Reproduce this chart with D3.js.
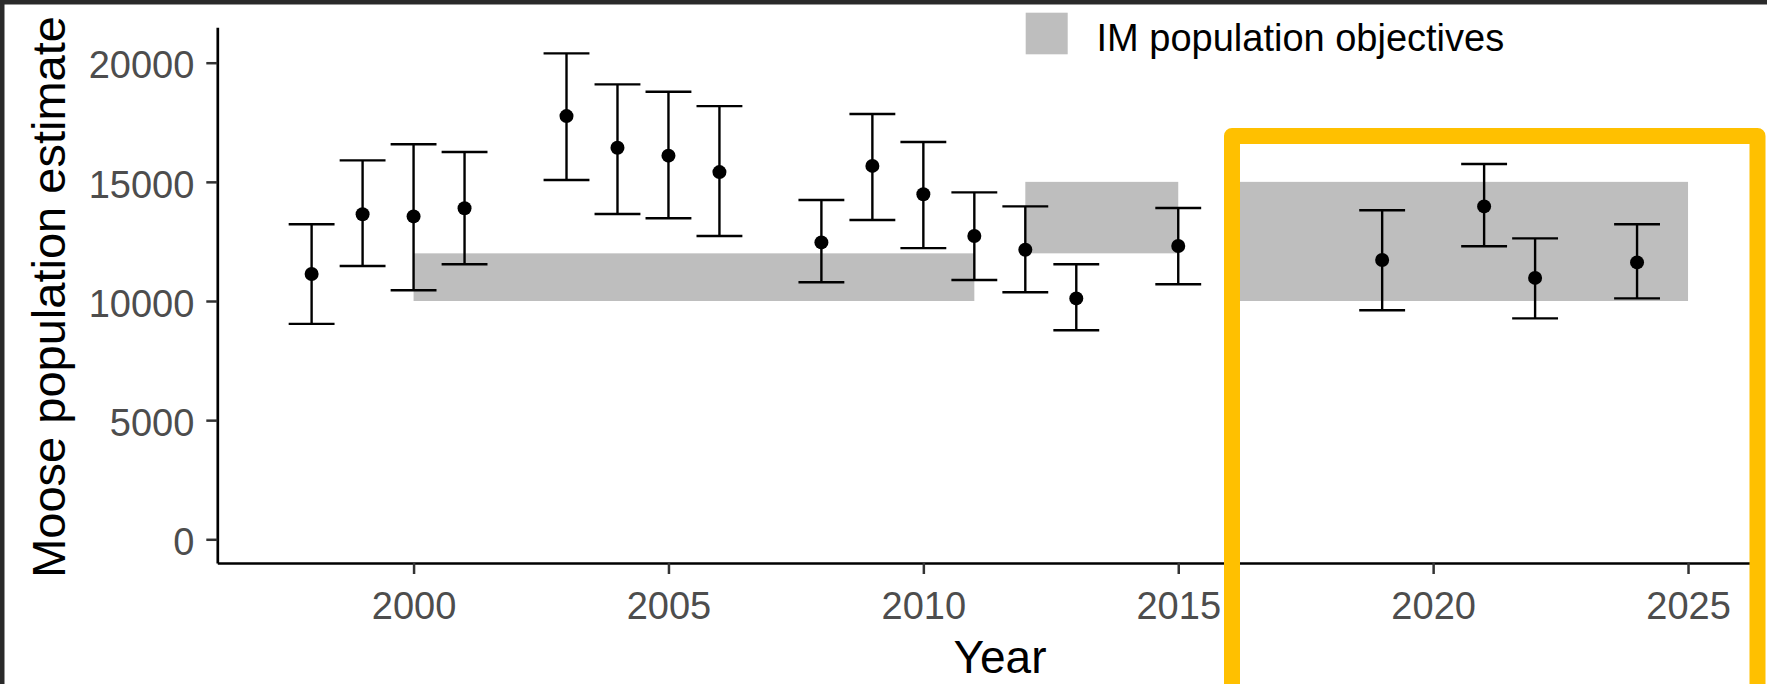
<!DOCTYPE html>
<html>
<head>
<meta charset="utf-8">
<script src="https://cdn.jsdelivr.net/npm/d3@7"></script>
<style>
  html, body { margin: 0; padding: 0; background: #2a2a2a; }
  svg { display: block; }
  text { font-family: "Liberation Sans", Arial, sans-serif; }
</style>
</head>
<body>
<svg id="chart" width="1767" height="684"></svg>
<script>
// ---- data ----
const years     = [1998, 1999, 2000, 2001, 2003, 2004, 2005, 2006, 2008, 2009, 2010, 2011, 2012, 2013, 2015, 2019, 2021, 2022, 2024];
const estimates = [11130, 13640, 13550, 13890, 17760, 16430, 16100, 15410, 12460, 15670, 14480, 12730, 12150, 10110, 12310, 11720, 13970, 10970, 11620];
const lower     = [9040, 11470, 10450, 11540, 15080, 13650, 13470, 12730, 10790, 13400, 12220, 10880, 10370, 8770, 10700, 9610, 12300, 9270, 10110];
const upper     = [13220, 15900, 16580, 16250, 20390, 19090, 18780, 18180, 14240, 17850, 16670, 14560, 13970, 11540, 13900, 13810, 15750, 12630, 13220];

const objStart = [2000, 2012, 2016];
const objEnd   = [2011, 2015, 2025];
const objLow   = [10000, 12000, 10000];
const objHigh  = [12000, 15000, 15000];

const xTicks = [2000, 2005, 2010, 2015, 2020, 2025];
const yTicks = [0, 5000, 10000, 15000, 20000];
const legendLabel = "IM population objectives";
const xTitle = "Year";
const yTitle = "Moose population estimate";

// ---- layout ----
const svg = d3.select("#chart");
svg.append("rect").attr("x", 0).attr("y", 0).attr("width", 1767).attr("height", 684).attr("fill", "#2a2a2a");
svg.append("rect").attr("x", 4.5).attr("y", 4.5).attr("width", 1767).attr("height", 684).attr("fill", "#ffffff");

const x = d3.scaleLinear().domain([1996.15, 2026.4]).range([217.3, 1759.4]);
const y = d3.scaleLinear().domain([-995, 21486]).range([563, 27.3]);
const capHalf = 0.45;

const pts = years.map((yr, i) => ({ yr, est: estimates[i], lo: lower[i], hi: upper[i] }));
const objs = objStart.map((s, i) => ({ s, e: objEnd[i], lo: objLow[i], hi: objHigh[i] }));

// objective bands
svg.append("g").selectAll("rect").data(objs).join("rect")
  .attr("x", d => x(d.s))
  .attr("width", d => x(d.e) - x(d.s))
  .attr("y", d => y(d.hi))
  .attr("height", d => y(d.lo) - y(d.hi))
  .attr("fill", "#bebebe");

// error bars
const eb = svg.append("g").attr("stroke", "#000").attr("stroke-width", 2.4).attr("fill", "none");
eb.selectAll("line.v").data(pts).join("line").attr("class", "v")
  .attr("x1", d => x(d.yr)).attr("x2", d => x(d.yr))
  .attr("y1", d => y(d.lo)).attr("y2", d => y(d.hi));
eb.selectAll("line.t").data(pts).join("line").attr("class", "t")
  .attr("x1", d => x(d.yr - capHalf)).attr("x2", d => x(d.yr + capHalf))
  .attr("y1", d => y(d.hi)).attr("y2", d => y(d.hi));
eb.selectAll("line.b").data(pts).join("line").attr("class", "b")
  .attr("x1", d => x(d.yr - capHalf)).attr("x2", d => x(d.yr + capHalf))
  .attr("y1", d => y(d.lo)).attr("y2", d => y(d.lo));

// points
svg.append("g").selectAll("circle").data(pts).join("circle")
  .attr("cx", d => x(d.yr)).attr("cy", d => y(d.est)).attr("r", 7).attr("fill", "#000");

// axes
const xAxis = svg.append("g").attr("transform", `translate(0,${y.range()[0]})`)
  .call(d3.axisBottom(x).tickValues(xTicks).tickFormat(d3.format("d")).tickSize(11).tickSizeOuter(0).tickPadding(18));
const yAxis = svg.append("g").attr("transform", `translate(${x.range()[0]},0)`)
  .call(d3.axisLeft(y).tickValues(yTicks).tickFormat(d3.format("d")).tickSize(11).tickSizeOuter(0).tickPadding(12));

[xAxis, yAxis].forEach(g => {
  g.select(".domain").attr("stroke", "#000").attr("stroke-width", 2.7);
  g.selectAll(".tick line").attr("stroke", "#333333").attr("stroke-width", 2.5);
  g.selectAll(".tick text").attr("fill", "#4d4d4d").style("font-size", "38px")
    .style("font-family", '"Liberation Sans", Arial, sans-serif');
});
yAxis.selectAll(".tick text").attr("dy", "0.4em");

// axis titles
svg.append("text").attr("x", 1000).attr("y", 673).attr("text-anchor", "middle")
  .style("font-size", "46px").attr("fill", "#000").text(xTitle);
svg.append("text").attr("transform", "translate(65,297) rotate(-90)").attr("text-anchor", "middle")
  .style("font-size", "47px").attr("fill", "#000").text(yTitle);

// legend
svg.append("rect").attr("x", 1025.7).attr("y", 12.7).attr("width", 42).attr("height", 41.6).attr("fill", "#bebebe");
svg.append("text").attr("x", 1096.5).attr("y", 50.7).style("font-size", "38px").attr("fill", "#000").text(legendLabel);

// yellow highlight frame
svg.append("rect").attr("x", 1232).attr("y", 136).attr("width", 525.5).attr("height", 700)
  .attr("fill", "none").attr("stroke", "#ffc000").attr("stroke-width", 16).attr("stroke-linejoin", "round");
</script>
</body>
</html>
